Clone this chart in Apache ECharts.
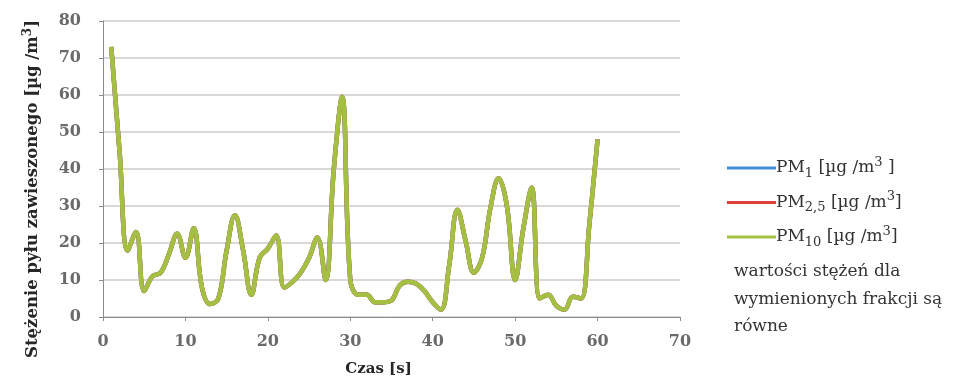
<!DOCTYPE html>
<html><head><meta charset="utf-8">
<script src="https://cdn.jsdelivr.net/npm/echarts@6/dist/echarts.min.js"></script>
<style>html,body{margin:0;padding:0;background:#fff}#c{width:959px;height:381px}</style>
</head><body><div id="c"></div>
<script>
var time = [1,2,3,4,5,6,7,8,9,10,11,12,13,14,15,16,17,18,19,20,21,22,23,24,25,26,27,28,29,30,31,32,33,34,35,36,37,38,39,40,41,42,43,44,45,46,47,48,49,50,51,52,53,54,55,56,57,58,59,60];
var pm10 = [73,45,18,23,7,11,12,17,22.5,16,24,8,3.5,5,18,27.5,18,6,16,18.5,22,8,9.5,12,16,21.5,10,40,59.5,10,6,6,4,4,4.5,8.5,9.5,9,7,4,2,14,29,20.5,12,16,29.5,37.5,30,10,24,35,5,6,3,2,5.5,5,25,48];
var pm1 = pm10.slice();   // values equal for all fractions
var pm25 = pm10.slice();
var seriesNames = ['PM1','PM2.5','PM10'];
var xTicks = [0,10,20,30,40,50,60,70];
var yTicks = [0,10,20,30,40,50,60,70,80];

var serif = '"DejaVu Serif","Liberation Serif",serif';
function pairs(v){ return time.map(function(t,i){ return [t, v[i]]; }); }
var colors = ['#3d8fd6','#e0403a','#a3c043'];
var chart = echarts.init(document.getElementById('c'));
var legendFmt = {
  'PM1': '{a|PM}{s|1}{a| [µg /m}{p|3}{a| ]}',
  'PM2.5': '{a|PM}{s|2,5}{a| [µg /m}{p|3}{a|]}',
  'PM10': '{a|PM}{s|10}{a| [µg /m}{p|3}{a|]}'
};
chart.setOption({
  animation: false,
  grid: {left: 103, right: 279, top: 21, bottom: 64, outerBoundsMode: 'none', containLabel: false},
  xAxis: {
    type: 'value', min: xTicks[0], max: xTicks[xTicks.length-1], interval: 10,
    name: 'Czas [s]', nameLocation: 'middle', nameGap: 45,
    nameTextStyle: {fontFamily: serif, fontWeight: 'bold', fontSize: 15, color: '#262626', padding: [0, 26, 0, 0]},
    axisLine: {lineStyle: {color: '#8c8c8c'}},
    axisTick: {show: true, length: 4, lineStyle: {color: '#8c8c8c'}},
    axisLabel: {fontFamily: serif, fontWeight: 'bold', fontSize: 16, color: '#6a6a6a', margin: 17},
    splitLine: {show: false}
  },
  yAxis: {
    type: 'value', min: yTicks[0], max: yTicks[yTicks.length-1], interval: 10,
    axisLine: {show: true, lineStyle: {color: '#8c8c8c'}},
    axisTick: {show: true, length: 4, lineStyle: {color: '#8c8c8c'}},
    axisLabel: {fontFamily: serif, fontWeight: 'bold', fontSize: 16, color: '#6a6a6a', margin: 22},
    splitLine: {lineStyle: {color: '#cfcaca', width: 1.5}}
  },
  legend: {
    orient: 'vertical', left: 722, top: 151, itemWidth: 49, itemHeight: 3, itemGap: 10.5,
    icon: 'rect', data: seriesNames,
    formatter: function(n){ return legendFmt[n]; },
    textStyle: {
      padding: [0,0,0,-5],
      rich: {
        a: {fontFamily: serif, fontSize: 17, color: '#333', lineHeight: 24, verticalAlign: 'middle'},
        s: {fontFamily: serif, fontSize: 13, color: '#333', lineHeight: 24, verticalAlign: 'bottom'},
        p: {fontFamily: serif, fontSize: 13, color: '#333', lineHeight: 24, verticalAlign: 'top'}
      }
    }
  },
  graphic: [
    {type: 'text', x: 33, y: 189, rotation: Math.PI/2,
     style: {text: '{n|Stężenie pyłu zawieszonego [µg /m}{p|3}{n|]}', align: 'center', verticalAlign: 'middle',
       rich: {n: {fontFamily: serif, fontWeight: 'bold', fontSize: 16.5, fill: '#262626', lineHeight: 22, verticalAlign: 'middle'},
              p: {fontFamily: serif, fontWeight: 'bold', fontSize: 12, fill: '#262626', lineHeight: 22, verticalAlign: 'top'}}}},
    {type: 'text', left: 734, top: 258,
     style: {text: 'wartości stężeń dla\nwymienionych frakcji są\nrówne', fontFamily: serif, fontSize: 17, fill: '#333', lineHeight: 27.5}}
  ],
  series: [
    {name: 'PM1', type: 'line', data: pairs(pm1), smooth: 0.4, symbol: 'none', lineStyle: {width: 4.5, color: colors[0]}, itemStyle: {color: colors[0]}},
    {name: 'PM2.5', type: 'line', data: pairs(pm25), smooth: 0.4, symbol: 'none', lineStyle: {width: 4.5, color: colors[1]}, itemStyle: {color: colors[1]}},
    {name: 'PM10', type: 'line', data: pairs(pm10), smooth: 0.4, symbol: 'none', lineStyle: {width: 4.5, color: colors[2]}, itemStyle: {color: colors[2]}}
  ]
});
</script></body></html>
